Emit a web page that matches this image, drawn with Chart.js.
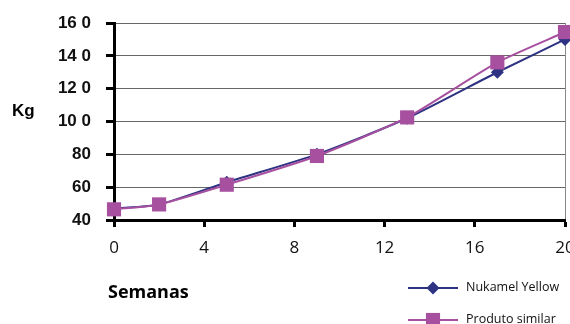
<!DOCTYPE html>
<html>
<head>
<meta charset="utf-8">
<script src="https://cdn.jsdelivr.net/npm/chart.js@4/dist/chart.umd.min.js"></script>
<style>
  html, body { margin: 0; padding: 0; background: #fff; }
  #wrap { width: 570px; height: 324px; position: relative; }
</style>
</head>
<body>
<div id="wrap"><canvas id="myChart" width="570" height="324"></canvas></div>
<script>
// weight (kg) per week
const weeks = [0, 2, 5, 9, 13, 17, 20];
const nukamel = [47, 49.5, 63, 80, 102, 130, 150];
const produto = [46.5, 49.5, 61.5, 79, 102.5, 136, 154.5];
const seriesNames = ['Nukamel Yellow', 'Produto similar'];

const yTickValues = [40, 60, 80, 100, 120, 140, 160];
const yTickLabels = ['40', '60', '80', '10 0', '12 0', '14 0', '16 0'];
const xTickValues = [0, 4, 8, 12, 16, 20];

const navy = '#2d3282';
const purple = '#a6509f';

function toPoints(xs, ys) {
  return xs.map((x, i) => ({ x: x, y: ys[i] }));
}

// axis titles and the two-row legend under the plot
const extras = {
  id: 'extras',
  afterDraw(chart) {
    const c = chart.ctx;
    c.save();
    c.fillStyle = '#000';
    c.textBaseline = 'alphabetic';
    c.textAlign = 'left';
    c.font = 'bold 17px "Liberation Sans", Arial, sans-serif';
    c.fillText('Kg', 12, 116);
    c.font = 'bold 18px "Open Sans", sans-serif';
    c.fillText('Semanas', 108, 298);

    const rows = [
      { ds: chart.data.datasets[1], y: 288 },
      { ds: chart.data.datasets[0], y: 320 }
    ];
    rows.forEach(r => {
      c.strokeStyle = r.ds.borderColor;
      c.lineWidth = 2;
      c.beginPath();
      c.moveTo(408, r.y);
      c.lineTo(458, r.y);
      c.stroke();
      c.fillStyle = r.ds.pointBackgroundColor;
      Chart.helpers.drawPoint(c, {
        pointStyle: r.ds.pointStyle,
        radius: r.ds.pointRadius,
        rotation: 0,
        borderWidth: 0
      }, 433, r.y);
      c.fillStyle = '#111';
      c.font = '12.5px "Open Sans", sans-serif';
      c.textBaseline = 'middle';
      c.fillText(r.ds.label, 466, r.y - 1);
    });
    c.restore();
  }
};

const ctx = document.getElementById('myChart');

new Chart(ctx, {
  type: 'line',
  data: {
    datasets: [{
      label: seriesNames[1],
      data: toPoints(weeks, produto),
      borderColor: purple,
      backgroundColor: purple,
      pointBackgroundColor: purple,
      pointBorderWidth: 0,
      pointStyle: 'rect',
      pointRadius: 10,
      borderWidth: 2,
      tension: 0.2,
      order: 0
    }, {
      label: seriesNames[0],
      data: toPoints(weeks, nukamel),
      borderColor: navy,
      backgroundColor: navy,
      pointBackgroundColor: navy,
      pointBorderWidth: 0,
      pointStyle: 'rectRot',
      pointRadius: 6.5,
      borderWidth: 2,
      tension: 0.2,
      order: 1
    }]
  },
  options: {
    responsive: false,
    animation: false,
    layout: { autoPadding: false, padding: { top: 23, right: 5, left: 0, bottom: 0 } },
    plugins: {
      legend: { display: false },
      tooltip: { enabled: false }
    },
    clip: false,
    scales: {
      x: {
        type: 'linear',
        min: 0,
        max: 20,
        afterBuildTicks(scale) {
          scale.ticks = xTickValues.map(v => ({ value: v }));
        },
        afterFit(scale) {
          scale.height = 104;
          // let the last label run past the right edge
          scale.paddingLeft = 0;
          scale.paddingRight = 0;
        },
        border: { display: true, color: '#000', width: 3 },
        grid: {
          drawOnChartArea: true,
          color: (c) => (c.tick && c.tick.value === 20 ? '#888' : 'rgba(0,0,0,0)'),
          lineWidth: 1,
          drawTicks: true,
          tickLength: 7,
          tickColor: '#000',
          tickWidth: 3
        },
        ticks: {
          color: '#111',
          padding: 11,
          maxRotation: 0,
          font: { family: '"Open Sans", sans-serif', size: 17 }
        }
      },
      y: {
        min: 40,
        max: 160,
        afterBuildTicks(scale) {
          scale.ticks = yTickValues.map(v => ({ value: v }));
        },
        afterFit(scale) {
          scale.width = 114;
          scale.paddingTop = 0;
          scale.paddingBottom = 0;
        },
        border: { display: true, color: '#000', width: 3 },
        grid: {
          color: '#666',
          lineWidth: 1,
          drawTicks: true,
          tickLength: 8,
          tickColor: '#000',
          tickWidth: 3
        },
        ticks: {
          color: '#111',
          padding: 15,
          font: { family: '"Liberation Sans", Arial, sans-serif', size: 17, weight: 'bold' },
          callback: (v) => yTickLabels[yTickValues.indexOf(v)]
        }
      }
    }
  },
  plugins: [extras]
});
</script>
</body>
</html>
